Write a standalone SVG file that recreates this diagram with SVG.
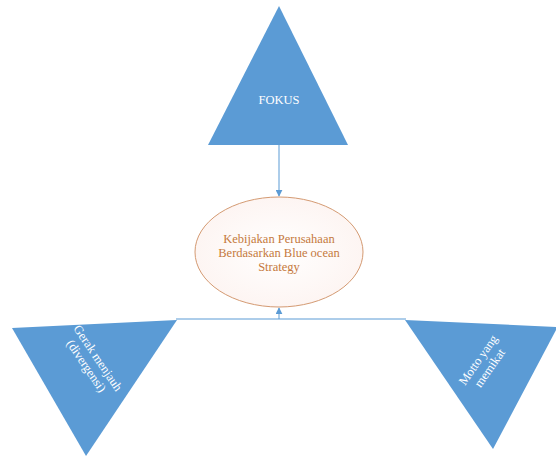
<svg xmlns="http://www.w3.org/2000/svg" width="556" height="457" viewBox="0 0 556 457">
<style>
.tri{fill:#5b9bd5;}
.wt{fill:#ffffff;font-family:"Liberation Serif",serif;font-size:12.5px;text-anchor:middle;}
.ot{fill:#c5793d;font-family:"Liberation Serif",serif;font-size:12.5px;text-anchor:middle;}
.con{stroke:#5b9bd5;stroke-width:1;fill:none;}
</style>
<defs>
<marker id="ah" viewBox="0 0 10 10" refX="9" refY="5" markerWidth="7" markerHeight="7" orient="auto" markerUnits="userSpaceOnUse">
<path d="M0,0 L10,5 L0,10 z" fill="#5b9bd5"/>
</marker>
<radialGradient id="eg" cx="0.5" cy="0.5" r="0.6">
<stop offset="0" stop-color="#ffffff"/>
<stop offset="1" stop-color="#fdf3f0"/>
</radialGradient>
</defs>
<g id="connectors">
<line class="con" x1="279" y1="145" x2="279" y2="196" marker-end="url(#ah)"/>
<line class="con" x1="176" y1="319" x2="406" y2="319"/>
<line class="con" x1="279" y1="319" x2="279" y2="308" marker-end="url(#ah)"/>
</g>
<g id="fokus">
<polygon class="tri" points="279,6 348,145 208,145"/>
<text class="wt" x="279" y="104">FOKUS</text>
</g>
<g id="kebijakan">
<ellipse cx="279" cy="252" rx="84" ry="55" fill="url(#eg)" stroke="#d49a72" stroke-width="1"/>
<text class="ot" x="279" y="243">Kebijakan Perusahaan</text>
<text class="ot" x="279" y="257">Berdasarkan Blue ocean</text>
<text class="ot" x="279" y="271">Strategy</text>
</g>
<g id="gerak">
<polygon class="tri" points="12,328 177,320 86,456"/>
<g transform="translate(92,362) rotate(56)">
<text class="wt" x="0" y="-3">Gerak menjauh</text>
<text class="wt" x="0" y="11">(divergensi)</text>
</g>
</g>
<g id="motto">
<polygon class="tri" points="405,320 556,327 556,330 493,449"/>
<g transform="translate(484,364) rotate(-55)">
<text class="wt" x="0" y="-3">Motto yang</text>
<text class="wt" x="0" y="11">memikat</text>
</g>
</g>
</svg>
